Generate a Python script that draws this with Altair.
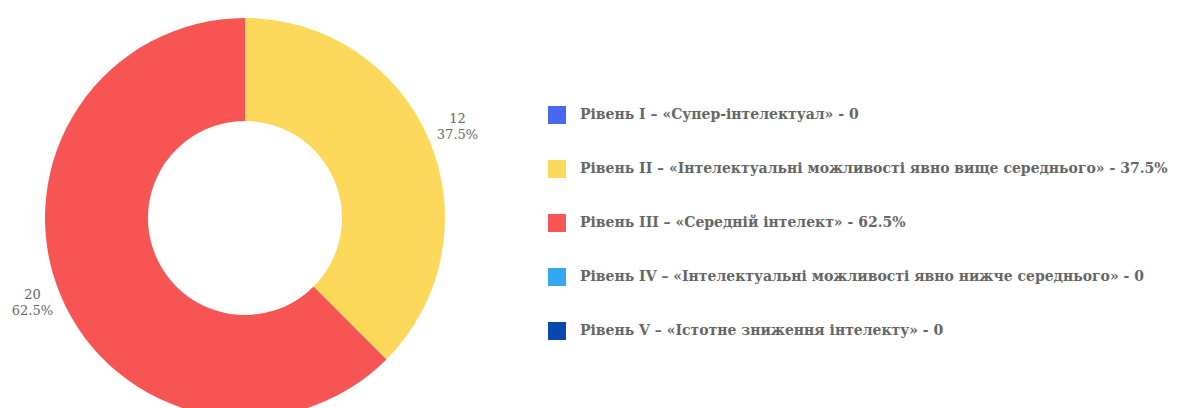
import altair as alt
import pandas as pd

levels = ["Рівень I", "Рівень II", "Рівень III", "Рівень IV", "Рівень V"]
names = ["«Супер-інтелектуал»",
         "«Інтелектуальні можливості явно вище середнього»",
         "«Середній інтелект»",
         "«Інтелектуальні можливості явно нижче середнього»",
         "«Істотне зниження інтелекту»"]
legend_vals = ["0", "37.5%", "62.5%", "0", "0"]
counts = [0, 12, 20, 0, 0]
percents = ["0%", "37.5%", "62.5%", "0%", "0%"]
colors = ["#4a67f2", "#fcd95a", "#f75454", "#35a8f4", "#0b48ad"]

labels = [f"{l} – {n}  - {v}" for l, n, v in zip(levels, names, legend_vals)]
df = pd.DataFrame({
    "label": labels,
    "count": counts,
    "order": list(range(len(labels))),
    "txt": [f"{c}\n{p}" for c, p in zip(counts, percents)],
})

FONT = "DejaVu Serif"
cx, cy = 245, 218

base = alt.Chart(df).encode(
    theta=alt.Theta("count:Q", stack=True),
    order=alt.Order("order:Q"),
    x=alt.value(cx), y=alt.value(cy),
)

arcs = base.mark_arc(radius=200, innerRadius=97).encode(
    color=alt.Color("label:N",
                    scale=alt.Scale(domain=labels, range=colors),
                    sort=labels,
                    legend=alt.Legend(title=None, orient="none", legendX=548, legendY=106,
                                      symbolType="square", symbolSize=324,
                                      symbolStrokeWidth=0, rowPadding=36,
                                      labelFont=FONT, labelFontSize=14, labelFontWeight="bold",
                                      labelColor="#666666", labelLimit=0, labelOffset=14)),
)

text = base.mark_text(radius=230, font=FONT, fontSize=13, color="#666666",
                      lineBreak="\n", lineHeight=16, align="center", baseline="middle",
                      dy=-11).encode(
    text="txt:N"
).transform_filter(alt.datum.count > 0)

chart = alt.layer(arcs, text).properties(
    width=1189, height=408, padding=0,
    autosize=alt.AutoSizeParams(type="none"),
).configure_view(stroke=None)

chart.save("out.html", embed_options={"renderer": "svg", "actions": False})
